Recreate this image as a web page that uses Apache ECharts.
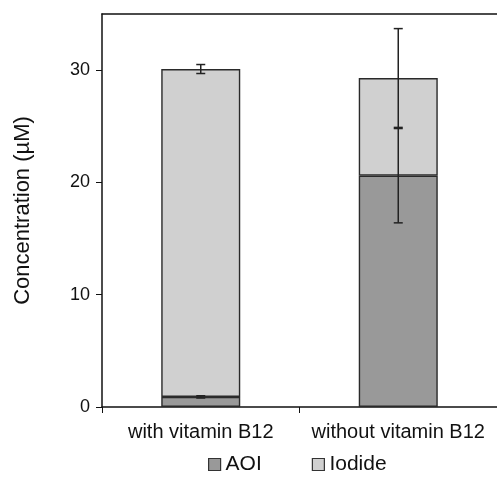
<!DOCTYPE html>
<html>
<head>
<meta charset="utf-8">
<script src="https://cdn.jsdelivr.net/npm/echarts@6/dist/echarts.min.js"></script>
<style>html,body{margin:0;padding:0;background:#fff;}#c{width:497px;height:498px;}</style>
</head>
<body>
<div id="c"></div>
<script>
var categories = ['with vitamin B12', 'without vitamin B12'];
var aoi = [0.9, 20.6];
var iodide = [29.2, 8.7];
var aoiErr = [0.1, 4.2];
var totalErr = [0.4, 4.4];
var yTicks = [0, 10, 20, 30];

var totals = aoi.map(function (v, i) { return v + iodide[i]; });
var errData = [];
for (var i = 0; i < categories.length; i++) {
  errData.push([i, aoi[i], aoiErr[i]]);
  errData.push([i, totals[i], totalErr[i]]);
}

var chart = echarts.init(document.getElementById('c'));
var font = 'Liberation Sans, Arial, sans-serif';
chart.setOption({
  animation: false,
  grid: { left: 102, top: 14, width: 398, bottom: 91, containLabel: false },
  legend: {
    data: ['AOI', 'Iodide'],
    top: 449,
    left: 203,
    icon: 'rect',
    itemWidth: 12,
    itemHeight: 12,
    itemGap: 50,
    itemStyle: { borderColor: '#333', borderWidth: 1.2 },
    textStyle: { fontFamily: font, fontSize: 21, color: '#111' }
  },
  xAxis: [{
    type: 'category',
    data: categories,
    axisLine: { lineStyle: { color: '#111', width: 1.5 } },
    axisTick: { show: true, interval: 0, length: 6, lineStyle: { color: '#111' } },
    axisLabel: { interval: 0, hideOverlap: false, fontFamily: font, fontSize: 20, color: '#111', margin: 15 }
  }, {
    type: 'category',
    data: categories,
    position: 'top',
    axisLine: { show: true, lineStyle: { color: '#111', width: 1.5 } },
    axisTick: { show: false },
    axisLabel: { show: false }
  }],
  yAxis: {
    type: 'value',
    min: 0, max: 35, interval: 10,
    name: 'Concentration (µM)',
    nameLocation: 'middle',
    nameGap: 68,
    nameTextStyle: { fontFamily: font, fontSize: 22, color: '#111' },
    axisLine: { show: true, lineStyle: { color: '#111', width: 1.5 } },
    axisTick: { show: true, length: 6, customValues: yTicks, lineStyle: { color: '#111' } },
    splitLine: { show: false },
    axisLabel: {
      fontFamily: font, fontSize: 18, color: '#111', margin: 12,
      customValues: yTicks
    }
  },
  series: [{
    name: 'AOI', type: 'bar', stack: 's', data: aoi, barWidth: '40%',
    itemStyle: { color: '#999999', borderColor: '#2a2a2a', borderWidth: 1.4 }
  }, {
    name: 'Iodide', type: 'bar', stack: 's', data: iodide, barWidth: '40%',
    itemStyle: { color: '#d0d0d0', borderColor: '#2a2a2a', borderWidth: 1.4 }
  }, {
    type: 'custom',
    data: errData,
    z: 10,
    renderItem: function (params, api) {
      var x = api.value(0), v = api.value(1), e = api.value(2);
      var hi = api.coord([x, v + e]);
      var lo = api.coord([x, v - e]);
      var cw = 4.5;
      var st = { stroke: '#222', lineWidth: 1.5 };
      return {
        type: 'group',
        children: [
          { type: 'line', shape: { x1: hi[0], y1: hi[1], x2: lo[0], y2: lo[1] }, style: st },
          { type: 'line', shape: { x1: hi[0] - cw, y1: hi[1], x2: hi[0] + cw, y2: hi[1] }, style: st },
          { type: 'line', shape: { x1: lo[0] - cw, y1: lo[1], x2: lo[0] + cw, y2: lo[1] }, style: st }
        ]
      };
    }
  }]
});
</script>
</body>
</html>
